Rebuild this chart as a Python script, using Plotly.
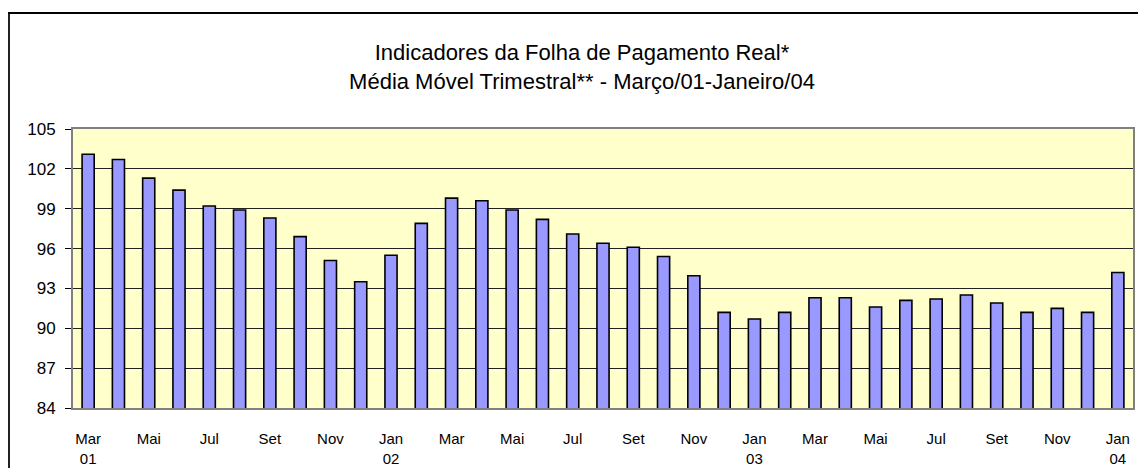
import plotly.graph_objects as go

categories = [
    "Mar/01", "Abr/01", "Mai/01", "Jun/01", "Jul/01", "Ago/01", "Set/01", "Out/01", "Nov/01", "Dez/01",
    "Jan/02", "Fev/02", "Mar/02", "Abr/02", "Mai/02", "Jun/02", "Jul/02", "Ago/02", "Set/02", "Out/02", "Nov/02", "Dez/02",
    "Jan/03", "Fev/03", "Mar/03", "Abr/03", "Mai/03", "Jun/03", "Jul/03", "Ago/03", "Set/03", "Out/03", "Nov/03", "Dez/03",
    "Jan/04",
]
values = [
    103.1, 102.7, 101.3, 100.4, 99.2, 98.9, 98.3, 96.9, 95.1, 93.5,
    95.5, 97.9, 99.8, 99.6, 98.9, 98.2, 97.1, 96.4, 96.1, 95.4, 93.95, 91.2,
    90.7, 91.2, 92.3, 92.3, 91.6, 92.1, 92.2, 92.5, 91.9, 91.2, 91.5, 91.2,
    94.2,
]
tick_categories = categories[::2]
tick_labels = ["Mar<br>01", "Mai", "Jul", "Set", "Nov", "Jan<br>02", "Mar", "Mai", "Jul", "Set", "Nov",
               "Jan<br>03", "Mar", "Mai", "Jul", "Set", "Nov", "Jan<br>04"]
y_ticks = [84, 87, 90, 93, 96, 99, 102, 105]

W, H = 1138, 468
ML, MR, MT, MB = 73, 5, 129, 60
pw = W - ML - MR
ph = H - MT - MB

fig = go.Figure(go.Bar(
    x=categories, y=values,
    marker=dict(color="#9999FF", line=dict(color="#000000", width=1.6)),
))

font = "Liberation Sans, Arial, sans-serif"

fig.update_layout(
    width=W, height=H,
    margin=dict(l=ML, r=MR, t=MT, b=MB),
    paper_bgcolor="white",
    plot_bgcolor="#FFFFCC",
    bargap=0.6,
    showlegend=False,
    font=dict(family=font, size=15, color="#000000"),
    title=dict(
        text="Indicadores da Folha de Pagamento Real*<br>Média Móvel Trimestral** - Março/01-Janeiro/04",
        x=582 / W, xanchor="center", xref="container",
        y=1 - 60 / H, yanchor="middle", yref="container",
        font=dict(family=font, size=22, color="#000000"),
        automargin=False,
    ),
    xaxis=dict(
        type="category",
        tickmode="array", tickvals=tick_categories, ticktext=tick_labels,
        ticks="", showgrid=False,
        showline=True, linecolor="#808080", linewidth=2, mirror=True,
        ticklabelstandoff=16,
        tickfont=dict(family=font, size=15),
        automargin=False,
    ),
    yaxis=dict(
        range=[84, 105], tickvals=y_ticks,
        ticks="outside", ticklen=6, tickcolor="#000000", tickwidth=1,
        showgrid=True, gridcolor="#222222", gridwidth=1,
        showline=True, linecolor="#808080", linewidth=2, mirror=True,
        ticklabelstandoff=6,
        tickfont=dict(family=font, size=17),
        zeroline=False,
        automargin=False,
    ),
    shapes=[
        dict(type="line", xref="paper", yref="paper",
             x0=(9 - ML) / pw, x1=(9 - ML) / pw,
             y0=(H - MB - 13) / ph, y1=(H - MB - 480) / ph,
             line=dict(color="#222222", width=2)),
        dict(type="line", xref="paper", yref="paper",
             x0=(8 - ML) / pw, x1=(1140 - ML) / pw,
             y0=(H - MB - 13) / ph, y1=(H - MB - 13) / ph,
             line=dict(color="#000000", width=2)),
    ],
)

fig.write_html(
    "out.html",
    config={"displayModeBar": False},
    post_script="document.body.style.margin='0px';document.body.style.overflow='hidden';",
)
